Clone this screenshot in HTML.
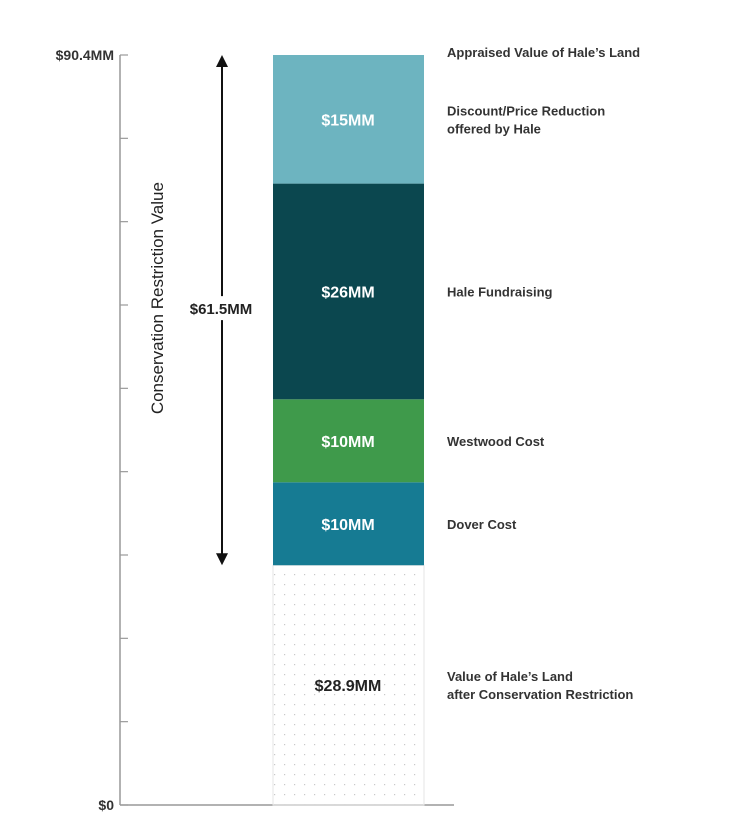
<!DOCTYPE html>
<html><head><meta charset="utf-8"><style>
body{margin:0;background:#fff;}
svg{display:block;font-family:"Liberation Sans",sans-serif;}
</style></head><body>
<svg id="c" width="742" height="820"></svg>
<script>
const segLabels=["$28.9MM","$10MM","$10MM","$26MM","$15MM"];
const segValues=[28.9,10,10,26,15.5];
const segNames=["Value of Hale’s Land|after Conservation Restriction","Dover Cost","Westwood Cost","Hale Fundraising","Discount/Price Reduction|offered by Hale"];
const segColors=["none","#167b93","#3f9a4b","#0b474f","#6db4c0"];
const tickCount=9;
const maxVal=90.4;
const ns="http://www.w3.org/2000/svg";
const svg=document.getElementById('c');
const y0=805,y1=55;
const y=v=>y0-(v/maxVal)*(y0-y1);
function mk(t,a,p){const e=document.createElementNS(ns,t);for(const k in a)e.setAttribute(k,a[k]);(p||svg).appendChild(e);return e;}
// dotted pattern
const defs=mk('defs',{});
const pat=mk('pattern',{id:'dots',width:10,height:10,patternUnits:'userSpaceOnUse'},defs);
mk('rect',{x:4,y:4,width:1.2,height:1.2,fill:'#c8c8c8'},pat);
// axis
let ax=mk('line',{x1:120,y1:y1,x2:120,y2:y0,stroke:'#999','stroke-width':1.5});

let bx=mk('line',{x1:120,y1:y0,x2:454,y2:y0,stroke:'#999','stroke-width':1.5});

for(let i=0;i<=tickCount;i++){const v=maxVal*i/tickCount;const t=mk('line',{x1:120,y1:y(v),x2:128,y2:y(v),stroke:'#999','stroke-width':1.2});
}
let tl=mk('text',{x:114,y:y(maxVal)+5,'text-anchor':'end','font-size':14,'font-weight':'bold',fill:'#333'});tl.textContent='$90.4MM';

let tb=mk('text',{x:114,y:y0+5,'text-anchor':'end','font-size':14,'font-weight':'bold',fill:'#333'});tb.textContent='$0';

// bars
let acc=0;
segValues.forEach((v,i)=>{
 const top=y(acc+v),bot=y(acc);
 const r=mk('rect',{x:273,y:top,width:151,height:bot-top,fill:segColors[i]==='none'?'url(#dots)':segColors[i]});
 if(segColors[i]==='none'){r.setAttribute('stroke','#e6e6e6');}
 
 const cy=(top+bot)/2;
 const l=mk('text',{x:348,y:cy+6,'text-anchor':'middle','font-size':16,'font-weight':'bold',fill:segColors[i]==='none'?'#222':'#fff'});
 l.textContent=segLabels[i];
 
 const parts=segNames[i].split('|');
 parts.forEach((p,j)=>{const n=mk('text',{x:447,y:cy+5+(j-(parts.length-1)/2)*18,'font-size':13,'font-weight':'bold',fill:'#333'});n.textContent=p;
 });
 acc+=v;
});
let ap=mk('text',{x:447,y:y(maxVal)+2,'font-size':13,'font-weight':'bold',fill:'#333'});ap.textContent='Appraised Value of Hale’s Land';

// arrow
const aTop=y(maxVal),aBot=y(segValues[0]);
let ar=mk('line',{x1:222,y1:aTop+10,x2:222,y2:aBot-10,stroke:'#111','stroke-width':2});

mk('polygon',{points:`216,${aTop+12} 228,${aTop+12} 222,${aTop}`,fill:'#111'});
mk('polygon',{points:`216,${aBot-12} 228,${aBot-12} 222,${aBot}`,fill:'#111'});
const mid=(aTop+aBot)/2;
mk('rect',{x:176,y:mid-14,width:90,height:24,fill:'#fff'});
let rl=mk('text',{x:221,y:mid+4,'text-anchor':'middle','font-size':15,'font-weight':'bold',fill:'#222'});rl.textContent='$61.5MM';

let yt=mk('text',{x:0,y:0,'text-anchor':'middle','font-size':17,fill:'#222',transform:`translate(163,${mid-12}) rotate(-90)`});yt.textContent='Conservation Restriction Value';

</script>
</body></html>
